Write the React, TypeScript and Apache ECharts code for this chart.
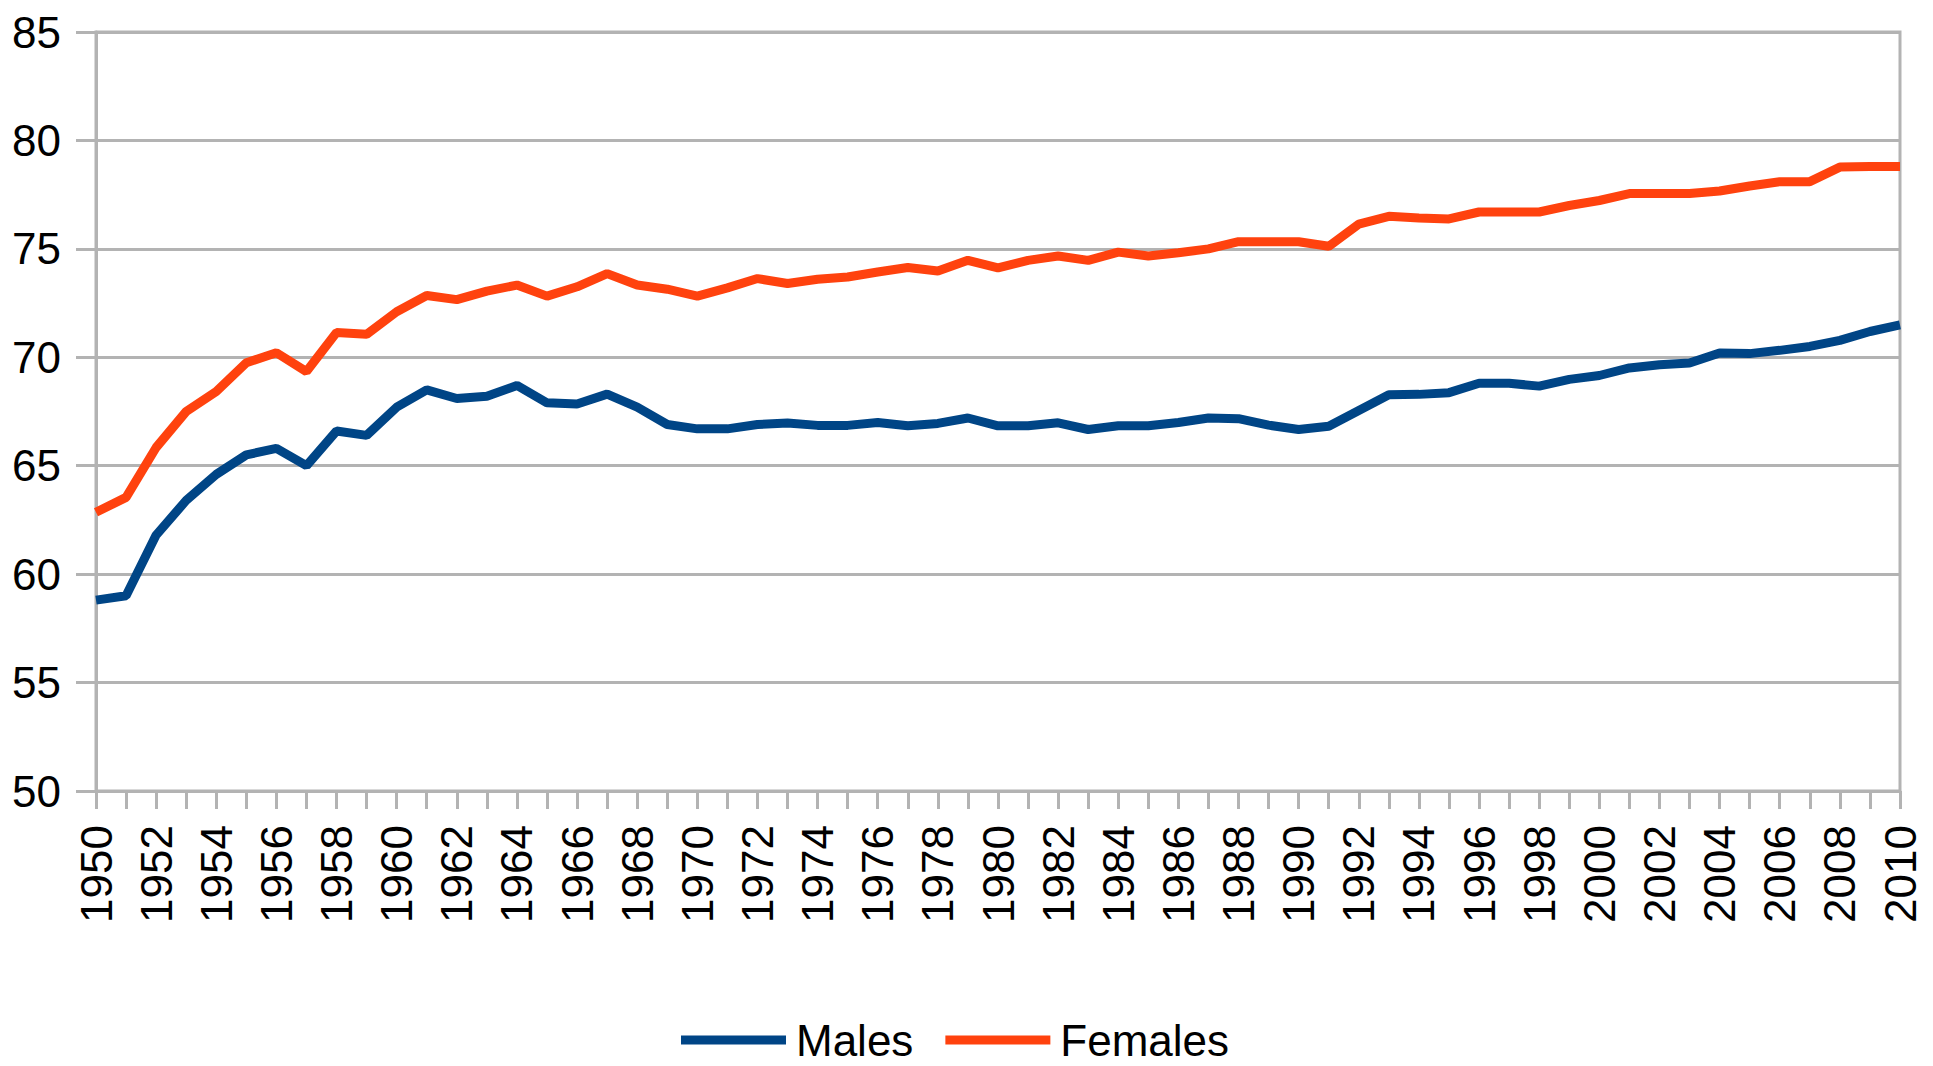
import React, { useEffect, useRef } from "react";
import * as echarts from "echarts";

const years: string[] = [];
for (let y = 1950; y <= 2010; y++) years.push(String(y));

const males = [
  58.8, 59.0, 61.8, 63.4, 64.6, 65.5, 65.8, 65.0, 66.6, 66.4,
  67.7, 68.5, 68.1, 68.2, 68.7, 67.9, 67.85, 68.3, 67.7, 66.9,
  66.7, 66.7, 66.9, 66.97, 66.86, 66.86, 66.99, 66.84, 66.95, 67.2,
  66.84, 66.84, 66.98, 66.67, 66.84, 66.84, 66.99, 67.2, 67.17, 66.87,
  66.67, 66.82, 67.55, 68.27, 68.29, 68.37, 68.8, 68.8, 68.67, 68.98,
  69.16, 69.51, 69.66, 69.74, 70.2, 70.17, 70.32, 70.5, 70.78, 71.19,
  71.49,
];

const females = [
  62.85, 63.54, 65.84, 67.5, 68.42, 69.75, 70.21, 69.34, 71.14, 71.06,
  72.1, 72.85, 72.66, 73.05, 73.33, 72.82, 73.25, 73.86, 73.33, 73.14,
  72.82, 73.2, 73.63, 73.4, 73.6, 73.7, 73.93, 74.14, 73.98, 74.47,
  74.12, 74.47, 74.67, 74.47, 74.85, 74.67, 74.82, 75.0, 75.33, 75.33,
  75.33, 75.12, 76.14, 76.5, 76.42, 76.38, 76.7, 76.7, 76.7, 77.0,
  77.23, 77.55, 77.55, 77.55, 77.67, 77.9, 78.1, 78.1, 78.77, 78.8,
  78.8,
];

const seriesNames = ["Males", "Females"];
const seriesColors = ["#004586", "#ff420e"];

const FONT = "'Liberation Sans', Arial, sans-serif";
const FONT_SIZE = 44;
const GRID_COLOR = "#b3b3b3";

export default function App() {
  const ref = useRef<HTMLDivElement>(null);
  useEffect(() => {
    document.body.style.margin = "0";
    const chart = echarts.init(ref.current!, null, { renderer: "svg" });
    chart.setOption({
      animation: false,
      backgroundColor: "#ffffff",
      textStyle: { fontFamily: FONT },
      grid: {
        left: 96,
        right: 33,
        top: 32,
        height: 759,
        show: true,
        borderColor: GRID_COLOR,
        borderWidth: 3,
        backgroundColor: "transparent",
      },
      legend: {
        data: seriesNames,
        left: 681,
        top: 1016,
        icon: "rect",
        itemWidth: 105,
        itemHeight: 9,
        itemGap: 32,
        padding: 0,
        textStyle: {
          fontFamily: FONT,
          fontSize: FONT_SIZE,
          lineHeight: 48,
          color: "#000",
          padding: [0, 0, 0, 5],
        },
      },
      xAxis: {
        type: "category",
        data: years,
        boundaryGap: false,
        axisLine: { show: true, lineStyle: { color: GRID_COLOR, width: 3 } },
        axisTick: {
          show: true,
          interval: 0,
          length: 18,
          lineStyle: { color: GRID_COLOR, width: 3 },
        },
        axisLabel: {
          interval: 1,
          rotate: 90,
          margin: 34,
          fontSize: FONT_SIZE,
          color: "#000",
          fontFamily: FONT,
        },
        splitLine: { show: false },
      },
      yAxis: {
        type: "value",
        min: 50,
        max: 85,
        interval: 5,
        axisLine: { show: true, lineStyle: { color: GRID_COLOR, width: 3 } },
        axisTick: {
          show: true,
          length: 20,
          lineStyle: { color: GRID_COLOR, width: 3 },
        },
        axisLabel: {
          margin: 35,
          fontSize: FONT_SIZE,
          color: "#000",
          fontFamily: FONT,
        },
        splitLine: { show: true, lineStyle: { color: GRID_COLOR, width: 3 } },
      },
      series: [
        {
          name: seriesNames[0],
          type: "line",
          data: males,
          showSymbol: false,
          symbol: "none",
          itemStyle: { color: seriesColors[0] },
          lineStyle: { color: seriesColors[0], width: 9 },
        },
        {
          name: seriesNames[1],
          type: "line",
          data: females,
          showSymbol: false,
          symbol: "none",
          itemStyle: { color: seriesColors[1] },
          lineStyle: { color: seriesColors[1], width: 9 },
        },
      ],
    });
    return () => chart.dispose();
  }, []);
  return (
    <div
      ref={ref}
      style={{ position: "fixed", left: 0, top: 0, width: 1933, height: 1066 }}
    />
  );
}
